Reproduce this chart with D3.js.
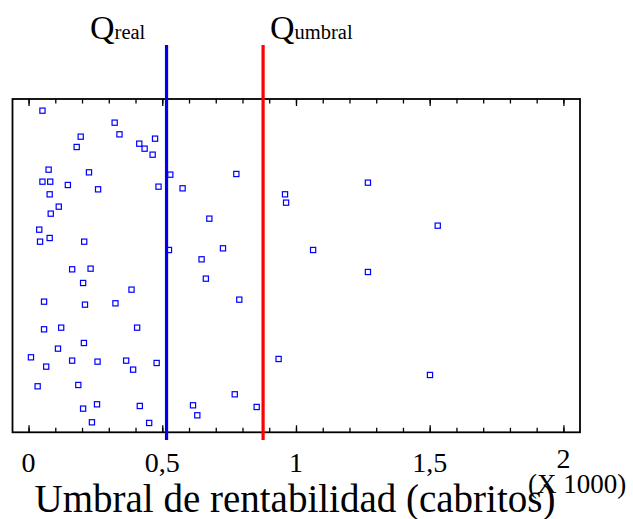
<!DOCTYPE html>
<html>
<head>
<meta charset="utf-8">
<script src="https://cdn.jsdelivr.net/npm/d3@7"></script>
<style>
  body { margin: 0; background: #fff; }
</style>
</head>
<body>
<div id="content"><svg width="633" height="519"></svg></div>
<script>
// umbral de rentabilidad (x1000 cabritos) por explotacion, y = posicion vertical (0-100)
var umbralX = [0.052, 0.322, 0.340, 0.195, 0.473, 0.414, 0.434, 0.180, 0.464, 0.075,
    0.226, 0.530, 0.777, 0.052, 0.081, 0.147, 0.486, 0.260, 0.576, 0.079,
    0.959, 0.963, 0.113, 0.083, 0.676, 0.040, 0.043, 0.079, 0.208, 0.525,
    0.727, 1.064, 0.647, 1.269, 1.530, 0.163, 0.232, 0.663, 0.204, 0.385,
    0.058, 0.211, 0.325, 0.788, 0.058, 0.122, 0.406, 0.207, 0.110, 0.009,
    0.163, 0.258, 0.365, 0.479, 0.935, 0.066, 0.391, 0.034, 0.186, 0.771,
    0.204, 0.256, 0.416, 0.615, 0.853, 0.631, 0.237, 0.451, 1.269, 1.501];
var posY = [96.5, 92.9, 89.4, 88.7, 88.1, 86.6, 85.1, 85.6, 83.3, 78.8,
    78.0, 77.3, 77.5, 75.2, 75.2, 74.2, 73.7, 72.9, 73.2, 71.4,
    71.4, 68.9, 67.7, 65.6, 64.1, 60.8, 57.2, 58.3, 57.2, 54.7,
    55.2, 54.7, 51.9, 74.9, 62.0, 48.9, 49.1, 46.1, 44.8, 42.8,
    39.2, 38.3, 38.7, 39.8, 30.9, 31.4, 31.4, 26.8, 25.1, 22.5,
    21.5, 21.2, 21.5, 20.8, 22.0, 19.7, 18.8, 13.8, 14.2, 11.4,
    7.1, 8.4, 7.9, 8.1, 7.6, 5.1, 3.0, 2.8, 48.1, 17.2];
var qReal = 0.516;
var qUmbral = 0.877;
var tickLabels = ["0", "0,5", "1", "1,5", "2"];
var tickValues = [0, 0.5, 1, 1.5, 2];

var serif = "Liberation Serif";
var svg = d3.select("#content").select("svg");
var plotL = 12.5, plotR = 580, plotT = 99, plotB = 432.3;

var xScale = d3.scaleLinear().domain([-0.06, 2.062]).range([plotL, plotR]);
var yScale = d3.scaleLinear().domain([0, 100]).range([plotB, plotT]);

var points = umbralX.map(function (d, i) { return {x: d, y: posY[i]}; });

// ticks inward, top and bottom
var minor = d3.range(0, 20.5, 1).map(function (d) { return d / 10; });
function ticks(axis, y, vals, size) {
    svg.append("g").attr("transform", "translate(0," + y + ")")
        .call(axis(xScale).tickValues(vals).tickSize(size).tickFormat(""))
        .call(function (g) { g.select(".domain").remove(); });
}
ticks(d3.axisBottom, plotT, minor, 4.5);
ticks(d3.axisBottom, plotT, tickValues, 7);
ticks(d3.axisTop, plotB, minor, 4.5);
ticks(d3.axisTop, plotB, tickValues, 7);
svg.selectAll(".tick line").attr("stroke", "#000").attr("stroke-width", 1.3);

svg.append("rect")
    .attr("x", plotL).attr("y", plotT)
    .attr("width", plotR - plotL).attr("height", plotB - plotT)
    .attr("fill", "none").attr("stroke", "#000").attr("stroke-width", 1.8);

svg.selectAll("rect.pt")
    .data(points)
    .enter()
    .append("rect")
    .attr("class", "pt")
    .attr("x", function (d) { return xScale(d.x) - 2.6; })
    .attr("y", function (d) { return yScale(d.y) - 2.6; })
    .attr("width", 5.2).attr("height", 5.2)
    .attr("fill", "none").attr("stroke", "#0000ff").attr("stroke-width", 1.2);

// Q lines
svg.append("line")
    .attr("x1", xScale(qReal)).attr("x2", xScale(qReal))
    .attr("y1", 45).attr("y2", 440)
    .attr("stroke", "#0000ee").attr("stroke-width", 3.2);
svg.append("line")
    .attr("x1", xScale(qUmbral)).attr("x2", xScale(qUmbral))
    .attr("y1", 45).attr("y2", 440)
    .attr("stroke", "#ff0000").attr("stroke-width", 3.2);

var t1 = svg.append("text").attr("x", 90).attr("y", 39)
    .attr("font-family", serif).attr("font-size", 34);
t1.append("tspan").text("Q");
t1.append("tspan").attr("font-size", 20.5).text("real");
var t2 = svg.append("text").attr("x", 270).attr("y", 39)
    .attr("font-family", serif).attr("font-size", 34);
t2.append("tspan").text("Q");
t2.append("tspan").attr("font-size", 20.5).text("umbral");

svg.selectAll("text.tl")
    .data(tickValues)
    .enter()
    .append("text")
    .attr("class", "tl")
    .attr("x", function (d) { return xScale(d); })
    .attr("y", function (d) { return d === 2 ? 468 : 472; })
    .attr("text-anchor", "middle")
    .attr("font-family", serif)
    .attr("font-size", 28)
    .text(function (d, i) { return tickLabels[i]; });

svg.append("text")
    .attr("x", 295).attr("y", 512)
    .attr("text-anchor", "middle")
    .attr("font-family", serif)
    .attr("font-size", 39)
    .text("Umbral de rentabilidad (cabritos)");

svg.append("text")
    .attr("x", 528).attr("y", 493)
    .attr("font-family", serif)
    .attr("font-size", 27)
    .text("(X 1000)");
</script>
</body>
</html>
